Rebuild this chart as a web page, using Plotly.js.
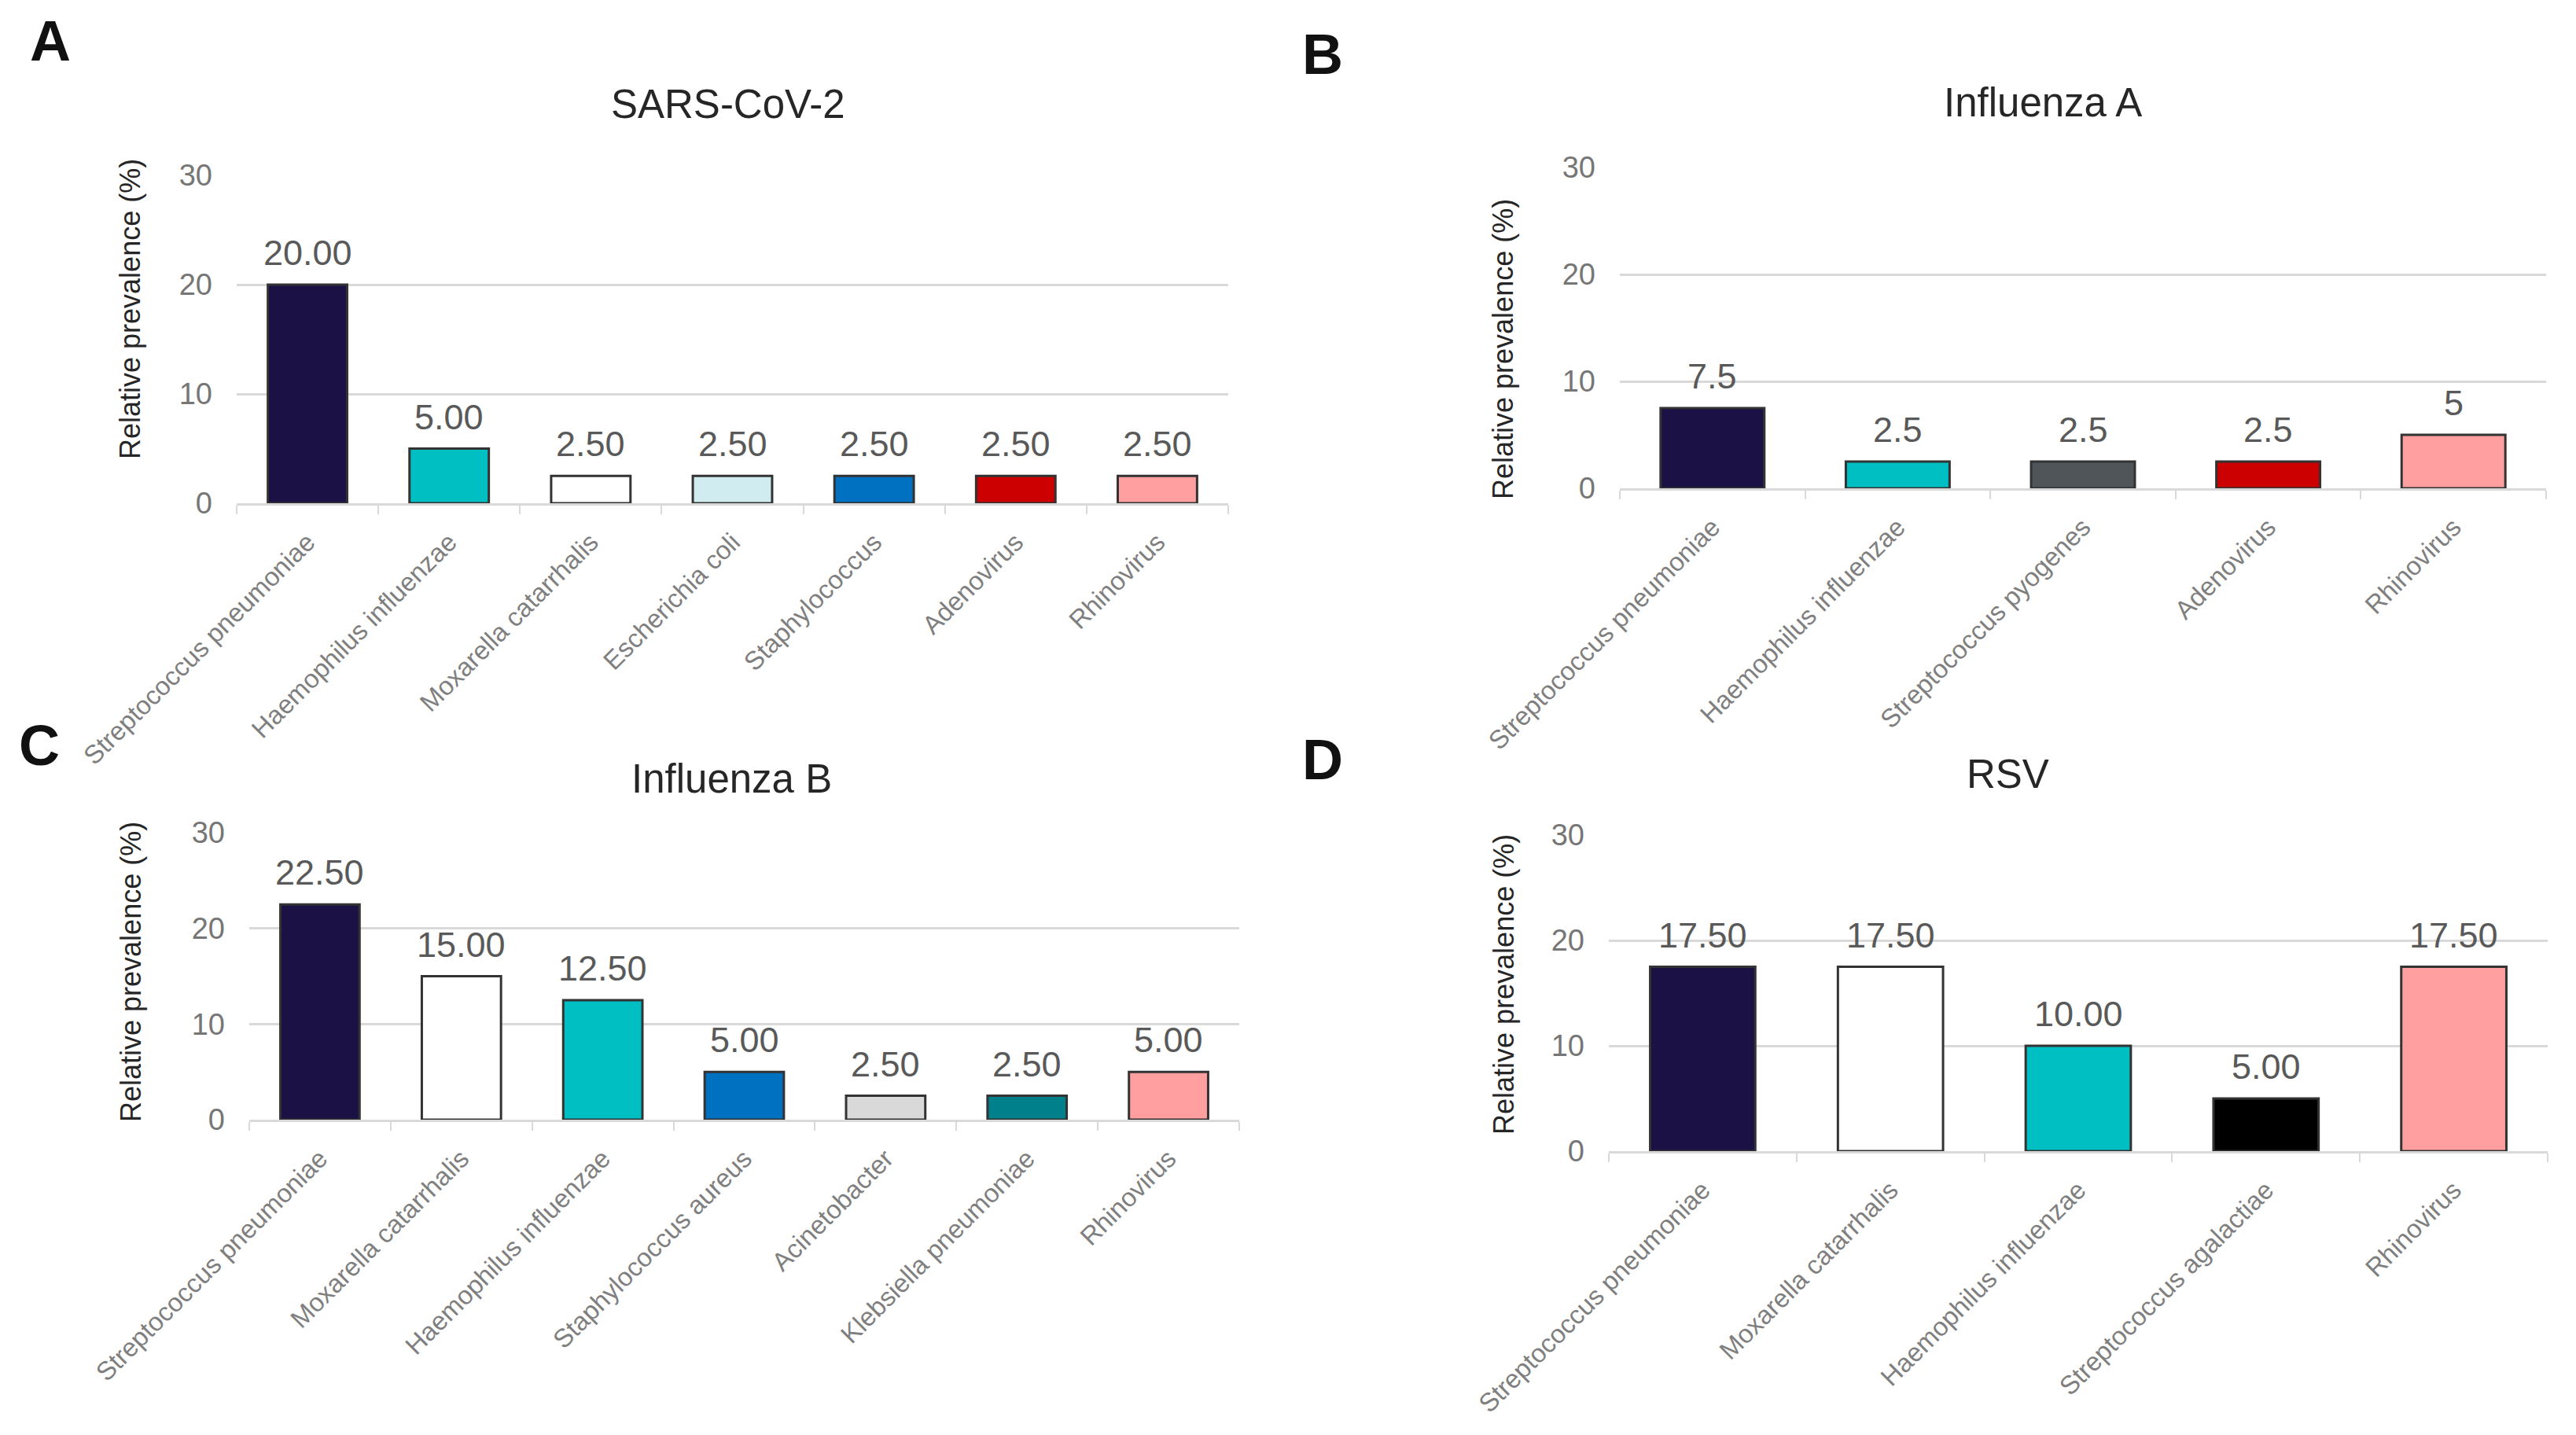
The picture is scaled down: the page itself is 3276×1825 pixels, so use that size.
<!DOCTYPE html>
<html>
<head>
<meta charset="utf-8">
<script src="https://cdn.plot.ly/plotly-3.0.1.min.js"></script>
<style>html,body{margin:0;padding:0;background:#fff;}#chart{width:3276px;height:1825px;}</style>
</head>
<body>
<div id="chart"></div>
<script>
// ---- Data ----
const catsA = ["Streptococcus pneumoniae","Haemophilus influenzae","Moxarella catarrhalis","Escherichia coli","Staphylococcus","Adenovirus","Rhinovirus"];
const valsA = [20, 5, 2.5, 2.5, 2.5, 2.5, 2.5];
const colorsA = ["#1b1145","#00bfc2","#ffffff","#d0ecf0","#0070c0","#cc0000","#ff9f9f"];

const catsB = ["Streptococcus pneumoniae","Haemophilus influenzae","Streptococcus pyogenes","Adenovirus","Rhinovirus"];
const valsB = [7.5, 2.5, 2.5, 2.5, 5];
const colorsB = ["#1b1145","#00bfc2","#4f5558","#cc0000","#ff9f9f"];

const catsC = ["Streptococcus pneumoniae","Moxarella catarrhalis","Haemophilus influenzae","Staphylococcus aureus","Acinetobacter","Klebsiella pneumoniae","Rhinovirus"];
const valsC = [22.5, 15, 12.5, 5, 2.5, 2.5, 5];
const colorsC = ["#1b1145","#ffffff","#00bfc2","#0070c0","#d9d9d9","#00808a","#ff9f9f"];

const catsD = ["Streptococcus pneumoniae","Moxarella catarrhalis","Haemophilus influenzae","Streptococcus agalactiae","Rhinovirus"];
const valsD = [17.5, 17.5, 10, 5, 17.5];
const colorsD = ["#1b1145","#ffffff","#00bfc2","#000000","#ff9f9f"];

const titles = ["SARS-CoV-2","Influenza A","Influenza B","RSV"];
const panelLetters = ["A","B","C","D"];
const yTitle = "Relative prevalence (%)";
const yTicks = [0, 10, 20, 30];

// ---- Layout helpers ----
const W = 3276, H = 1825;
const FONT = "Liberation Sans, Arial, Helvetica, sans-serif";
const px = v => v / W;
const py = v => 1 - v / H;

const panels = [
  {cats: catsA, vals: valsA, colors: colorsA, fmt: v => v.toFixed(2),
   x0: 301, x1: 1562, yTop: 223, yBot: 640,
   title: [926, 132], letter: [64, 52], ytitle: [166, 393]},
  {cats: catsB, vals: valsB, colors: colorsB, fmt: v => String(v),
   x0: 2060, x1: 3238, yTop: 213, yBot: 621,
   title: [2598, 130], letter: [1682, 69], ytitle: [1912, 444]},
  {cats: catsC, vals: valsC, colors: colorsC, fmt: v => v.toFixed(2),
   x0: 317, x1: 1576, yTop: 1059, yBot: 1424,
   title: [930, 990], letter: [50, 948], ytitle: [166, 1236]},
  {cats: catsD, vals: valsD, colors: colorsD, fmt: v => v.toFixed(2),
   x0: 2046, x1: 3240, yTop: 1062, yBot: 1464,
   title: [2553, 984], letter: [1682, 966], ytitle: [1912, 1252]}
];

const data = [];
const layout = {
  width: W, height: H,
  margin: {l: 0, r: 0, t: 0, b: 0},
  paper_bgcolor: "#ffffff", plot_bgcolor: "#ffffff",
  showlegend: false,
  bargap: 0.44,
  font: {family: FONT},
  annotations: []
};

panels.forEach((p, i) => {
  const n = i === 0 ? "" : String(i + 1);
  data.push({
    type: "bar",
    x: p.cats, y: p.vals,
    xaxis: "x" + n, yaxis: "y" + n,
    marker: {color: p.colors, line: {color: "#333333", width: 3}},
    hoverinfo: "skip",
    cliponaxis: false
  });
  layout["xaxis" + n] = {
    domain: [px(p.x0), px(p.x1)],
    anchor: "y" + n,
    type: "category",
    showgrid: false,
    showline: true, linecolor: "#d9d9d9", linewidth: 3,
    ticks: "outside", tickson: "boundaries", ticklen: 11, tickwidth: 2, tickcolor: "#d9d9d9",
    tickangle: -45,
    tickfont: {family: FONT, size: 33, color: "#7f7f7f"},
    ticklabelstandoff: 14,
    fixedrange: true
  };
  layout["yaxis" + n] = {
    domain: [py(p.yBot), py(p.yTop)],
    anchor: "x" + n,
    range: [0, 30],
    tickvals: yTicks,
    ticktext: yTicks.map(String),
    showgrid: true, gridcolor: "#d9d9d9", gridwidth: 3,
    zeroline: false, showline: false, ticks: "",
    tickfont: {family: FONT, size: 38, color: "#767676"},
    ticklabelstandoff: 30,
    fixedrange: true
  };
  // data labels
  p.cats.forEach((c, k) => {
    layout.annotations.push({
      xref: "x" + n, yref: "y" + n, x: c, y: p.vals[k],
      text: p.fmt(p.vals[k]), showarrow: false,
      yanchor: "bottom", xanchor: "center", yshift: 13,
      font: {family: FONT, size: 45, color: "#595959"}
    });
  });
  // panel title
  layout.annotations.push({
    xref: "paper", yref: "paper", x: px(p.title[0]), y: py(p.title[1]),
    text: titles[i], showarrow: false, xanchor: "center", yanchor: "middle",
    font: {family: FONT, size: 51, color: "#262626"}
  });
  // panel letter
  layout.annotations.push({
    xref: "paper", yref: "paper", x: px(p.letter[0]), y: py(p.letter[1]),
    text: "<b>" + panelLetters[i] + "</b>", showarrow: false, xanchor: "center", yanchor: "middle",
    font: {family: FONT, size: 72, color: "#111111"}
  });
  // y axis title
  layout.annotations.push({
    xref: "paper", yref: "paper", x: px(p.ytitle[0]), y: py(p.ytitle[1]),
    text: yTitle, showarrow: false, textangle: -90, xanchor: "center", yanchor: "middle",
    font: {family: FONT, size: 36, color: "#262626"}
  });
});

Plotly.newPlot("chart", data, layout, {staticPlot: true, displayModeBar: false});
</script>
</body>
</html>
